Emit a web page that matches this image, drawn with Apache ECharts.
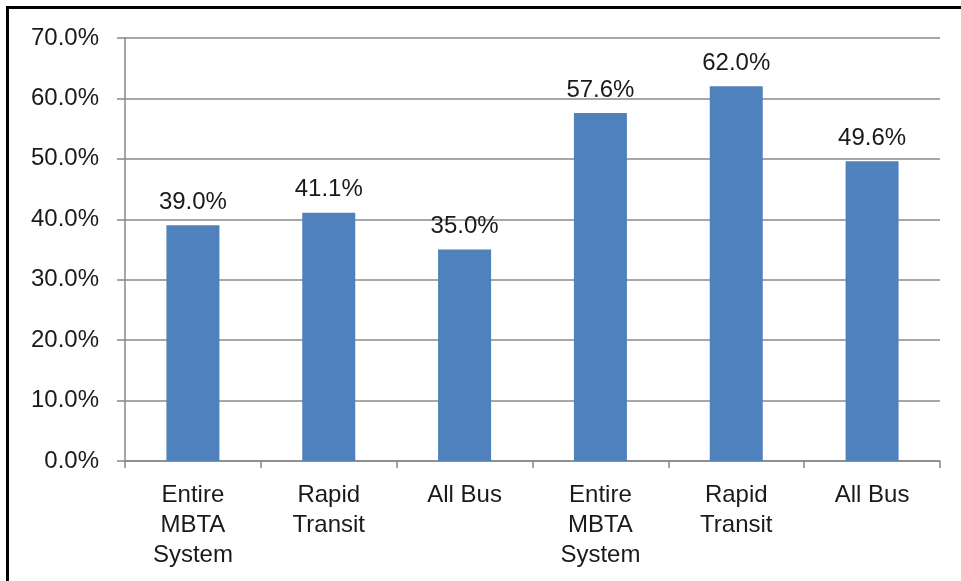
<!DOCTYPE html>
<html>
<head>
<meta charset="utf-8">
<script src="https://cdn.jsdelivr.net/npm/echarts@6/dist/echarts.min.js"></script>
<style>
html,body{margin:0;padding:0;background:#fff;overflow:hidden;}
#frame{position:absolute;left:6px;top:6px;width:1000px;height:620px;border:3px solid #000;box-sizing:border-box;}
#chart{position:absolute;left:0;top:0;width:961px;height:581px;}
</style>
</head>
<body>
<div id="frame"></div>
<div id="chart"></div>
<script>
var categories = ["Entire\nMBTA\nSystem", "Rapid\nTransit", "All Bus", "Entire\nMBTA\nSystem", "Rapid\nTransit", "All Bus"];
var values = [39.0, 41.1, 35.0, 57.6, 62.0, 49.6];
var yTicks = [0, 10, 20, 30, 40, 50, 60, 70];

var chart = echarts.init(document.getElementById('chart'), null, {renderer: 'canvas'});
var font = 'Liberation Sans, Arial, sans-serif';
chart.setOption({
  animation: false,
  backgroundColor: 'transparent',
  grid: {left: 125, right: 21, top: 38, bottom: 120, containLabel: false},
  xAxis: {
    type: 'category',
    data: categories,
    axisLine: {show: true, lineStyle: {color: '#888', width: 1.5}},
    axisTick: {show: true, length: 7, alignWithLabel: false, lineStyle: {color: '#888', width: 1.5}},
    axisLabel: {color: '#1a1a1a', fontFamily: font, fontSize: 24, lineHeight: 30, margin: 19, interval: 0}
  },
  yAxis: {
    type: 'value',
    min: yTicks[0],
    max: yTicks[yTicks.length - 1],
    interval: 10,
    axisLine: {show: true, lineStyle: {color: '#888', width: 1.5}},
    axisTick: {show: true, length: 8, lineStyle: {color: '#888', width: 1.5}},
    splitLine: {show: true, lineStyle: {color: '#8a8a8a', width: 1.5}},
    axisLabel: {color: '#1a1a1a', fontFamily: font, fontSize: 24, margin: 26,
      formatter: function (v) { return v.toFixed(1) + '%'; }}
  },
  series: [{
    type: 'bar',
    data: values,
    barWidth: 53,
    itemStyle: {color: '#4F81BD'},
    label: {
      show: true, position: 'top', distance: 11,
      color: '#1a1a1a', fontFamily: font, fontSize: 24,
      formatter: function (p) { return p.value.toFixed(1) + '%'; }
    }
  }]
});
</script>
</body>
</html>
